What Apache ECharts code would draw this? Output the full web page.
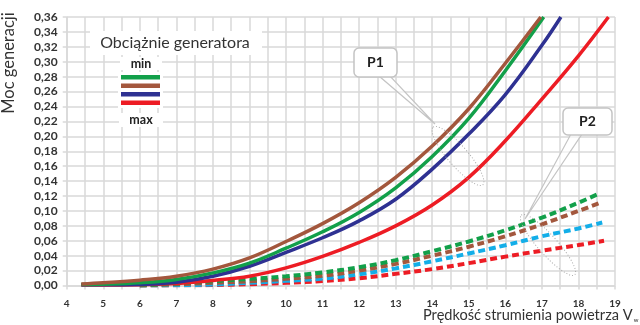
<!DOCTYPE html>
<html>
<head>
<meta charset="utf-8">
<script src="https://cdn.jsdelivr.net/npm/echarts@6/dist/echarts.min.js"></script>
<style>html,body{margin:0;padding:0;background:#fff}#c{width:640px;height:325px}</style>
</head>
<body>
<div id="c"></div>
<script>
// ---- data ----
const solidSpeeds = [4.4, 5, 6, 7, 8, 9, 10, 11, 12, 13, 14, 15, 16];
const brownSolid = [0.002, 0.0036, 0.0071, 0.0124, 0.022, 0.037, 0.059, 0.083, 0.111, 0.145, 0.187, 0.237, 0.298];
const brownSolidEnd = [[16.97, 0.36]];
const greenSolid = [0.0015, 0.0018, 0.0036, 0.008, 0.0169, 0.030, 0.050, 0.072, 0.098, 0.131, 0.173, 0.224, 0.288];
const greenSolidEnd = [[17.05, 0.36]];
const blueSolid = [0.001, 0.001, 0.0013, 0.0044, 0.0124, 0.0258, 0.0444, 0.064, 0.0867, 0.1156, 0.156, 0.203, 0.256];
const blueSolidEnd = [[17, 0.322], [17.52, 0.36]];
const redSolid = [0.0008, 0.0008, 0.001, 0.0027, 0.0067, 0.0124, 0.0236, 0.039, 0.0578, 0.080, 0.108, 0.145, 0.194];
const redSolidEnd = [[17, 0.250], [18, 0.308], [18.82, 0.36]];

const dashSpeeds = [6, 7, 8, 9, 10, 11, 12, 13, 14, 15, 16, 17, 18];
const greenDash = [0, 0.0027, 0.0058, 0.0089, 0.0124, 0.0175, 0.0245, 0.034, 0.046, 0.059, 0.074, 0.091, 0.111];
const greenDashEnd = [[18.58, 0.1236]];
const brownDash = [0, 0.0018, 0.0036, 0.0058, 0.0089, 0.013, 0.020, 0.029, 0.040, 0.052, 0.066, 0.082, 0.100];
const brownDashEnd = [[18.6, 0.111]];
const cyanDash = [0, 0.0003, 0.0013, 0.0036, 0.0062, 0.0093, 0.015, 0.023, 0.0325, 0.043, 0.054, 0.066, 0.0765];
const cyanDashEnd = [[18.65, 0.0844]];
const redDash = [0, 0.0002, 0.0006, 0.0018, 0.0036, 0.006, 0.0098, 0.0156, 0.022, 0.030, 0.0387, 0.0467, 0.0542];
const redDashEnd = [[18.7, 0.060]];

const xMin = 4, xMax = 19, xStep = 0.5;
const yMin = 0, yMax = 0.36, yStep = 0.02;

const legendTitle = 'Obciążnie generatora';
const legendMin = 'min', legendMax = 'max';
const yName = 'Moc generacji';
const xName = 'Prędkość strumienia powietrza V';
const xNameSub = 'w';
const callout1 = 'P1', callout2 = 'P2';

// ---- colours ----
const C_GREEN = '#12a04a', C_BROWN = '#a3573d', C_BLUE = '#2e3192', C_RED = '#ed1c24', C_CYAN = '#13aee8';
const GRID = '#d9d9d9';
const FONT = 'Lato';

function pairs(xs, ys, tail) { return xs.map((x, i) => [x, ys[i]]).concat(tail || []); }

function solid(name, color, xs, ys, tail) {
  return { name, type: 'line', data: pairs(xs, ys, tail), showSymbol: false, smooth: 0.4,
    lineStyle: { color, width: 3.5 }, itemStyle: { color }, z: 3 };
}
function dashed(name, color, xs, ys, tail) {
  return { name, type: 'line', data: pairs(xs, ys, tail), showSymbol: false, smooth: 0.4,
    lineStyle: { color, width: 4, type: [7, 4], cap: 'butt' }, itemStyle: { color }, z: 2 };
}

const chart = echarts.init(document.getElementById('c'), null, { renderer: 'canvas' });

const calloutStroke = '#c4c4c4';
const option = {
  animation: false,
  textStyle: { fontFamily: FONT },
  grid: { left: 66.7, right: 25, top: 17, bottom: 39.5 },
  xAxis: {
    type: 'value', min: xMin, max: xMax, interval: xStep,
    axisLine: { show: true, lineStyle: { color: GRID, width: 1.5 } },
    axisTick: { show: true, length: 4, lineStyle: { color: GRID, width: 1.5 } },
    splitLine: { show: true, lineStyle: { color: GRID, width: 1.5 } },
    axisLabel: { formatter: v => (Math.abs(v - Math.round(v)) < 1e-9 ? String(Math.round(v)) : ''),
      fontWeight: 'bold', fontSize: 10, color: '#333', margin: 13, fontFamily: FONT }
  },
  yAxis: {
    type: 'value', min: yMin, max: yMax, interval: yStep,
    axisLine: { show: true, lineStyle: { color: GRID, width: 1.5 } },
    axisTick: { show: true, length: 4, lineStyle: { color: GRID, width: 1.5 } },
    splitLine: { show: true, lineStyle: { color: GRID, width: 1.5 } },
    axisLabel: { formatter: v => v.toFixed(2).replace('.', ','), fontWeight: 'bold', fontSize: 12,
      color: '#333', margin: 9, fontFamily: FONT }
  },
  series: [
    dashed('P2 red', C_RED, dashSpeeds, redDash, redDashEnd),
    dashed('P2 cyan', C_CYAN, dashSpeeds, cyanDash, cyanDashEnd),
    dashed('P2 brown', C_BROWN, dashSpeeds, brownDash, brownDashEnd),
    dashed('P2 green', C_GREEN, dashSpeeds, greenDash, greenDashEnd),
    solid('P1 red', C_RED, solidSpeeds, redSolid, redSolidEnd),
    solid('P1 blue', C_BLUE, solidSpeeds, blueSolid, blueSolidEnd),
    solid('P1 green', C_GREEN, solidSpeeds, greenSolid, greenSolidEnd),
    solid('P1 brown', C_BROWN, solidSpeeds, brownSolid, brownSolidEnd)
  ],
  graphic: [
    // y axis name
    { type: 'text', z: 20, x: 9, y: 63, rotation: Math.PI / 2,
      style: { text: yName, fill: '#333', font: '16.5px "' + FONT + '"', align: 'center', verticalAlign: 'middle' } },
    // x axis name with subscript
    { type: 'text', z: 20, x: 423, y: 323,
      style: { text: '{m|' + xName + '}{s|' + xNameSub + '}', fill: '#333', verticalAlign: 'bottom', align: 'left',
        rich: { m: { fontSize: 14.6, fontFamily: FONT, fill: '#333' },
                s: { fontSize: 6, fontFamily: FONT, fill: '#333', verticalAlign: 'bottom', padding: [0, 0, 0, 1] } } } },
    // legend title box
    { type: 'rect', z: 15, shape: { x: 90, y: 31, width: 172, height: 24 }, style: { fill: '#fff' } },
    { type: 'text', z: 16, x: 175, y: 43,
      style: { text: legendTitle, fill: '#333', font: '16px "' + FONT + '"', align: 'center', verticalAlign: 'middle' } },
    { type: 'rect', z: 15, shape: { x: 120, y: 57, width: 42, height: 13 }, style: { fill: '#fff' } },
    { type: 'text', z: 16, x: 141, y: 64,
      style: { text: legendMin, fill: '#222', font: 'bold 12.5px "' + FONT + '"', align: 'center', verticalAlign: 'middle' } },
    { type: 'rect', z: 15, shape: { x: 118, y: 72, width: 45, height: 36 }, style: { fill: '#fff' } },
    { type: 'rect', z: 16, shape: { x: 121, y: 75, width: 39, height: 4.5 }, style: { fill: C_GREEN } },
    { type: 'rect', z: 16, shape: { x: 121, y: 83.5, width: 39, height: 4.5 }, style: { fill: C_BROWN } },
    { type: 'rect', z: 16, shape: { x: 121, y: 92, width: 39, height: 4.5 }, style: { fill: C_BLUE } },
    { type: 'rect', z: 16, shape: { x: 121, y: 100.5, width: 39, height: 4.5 }, style: { fill: C_RED } },
    { type: 'rect', z: 15, shape: { x: 119, y: 113, width: 44, height: 14 }, style: { fill: '#fff' } },
    { type: 'text', z: 16, x: 141, y: 120,
      style: { text: legendMax, fill: '#222', font: 'bold 12.5px "' + FONT + '"', align: 'center', verticalAlign: 'middle' } },

    // P1 callout
    { type: 'ellipse', z: 12, x: 458, y: 156, rotation: -0.86,
      shape: { cx: 0, cy: 0, rx: 38, ry: 10 }, style: { fill: 'none', stroke: '#aaa', lineWidth: 1, lineDash: [1, 2] } },
    { type: 'polygon', z: 13, shape: { points: [[379, 76], [390, 76], [435, 124]] },
      style: { fill: 'rgba(255,255,255,0.6)', stroke: calloutStroke, lineWidth: 1.2 } },
    { type: 'rect', z: 14, shape: { x: 354, y: 48, width: 43, height: 29, r: 5 },
      style: { fill: '#fff', stroke: calloutStroke, lineWidth: 1.5 } },
    { type: 'text', z: 15, x: 375.5, y: 62.5,
      style: { text: callout1, fill: '#222', font: 'bold 14px "' + FONT + '"', align: 'center', verticalAlign: 'middle' } },

    // P2 callout
    { type: 'ellipse', z: 12, x: 548, y: 245, rotation: -0.84,
      shape: { cx: 0, cy: 0, rx: 40, ry: 9.5 }, style: { fill: 'none', stroke: '#aaa', lineWidth: 1, lineDash: [1, 2] } },
    { type: 'polygon', z: 13, shape: { points: [[571, 134], [582, 134], [525, 219]] },
      style: { fill: 'rgba(255,255,255,0.6)', stroke: calloutStroke, lineWidth: 1.2 } },
    { type: 'rect', z: 14, shape: { x: 563, y: 108, width: 49, height: 27, r: 5 },
      style: { fill: '#fff', stroke: calloutStroke, lineWidth: 1.5 } },
    { type: 'text', z: 15, x: 587.5, y: 121.5,
      style: { text: callout2, fill: '#222', font: 'bold 14px "' + FONT + '"', align: 'center', verticalAlign: 'middle' } }
  ]
};
chart.setOption(option);
</script>
</body>
</html>
